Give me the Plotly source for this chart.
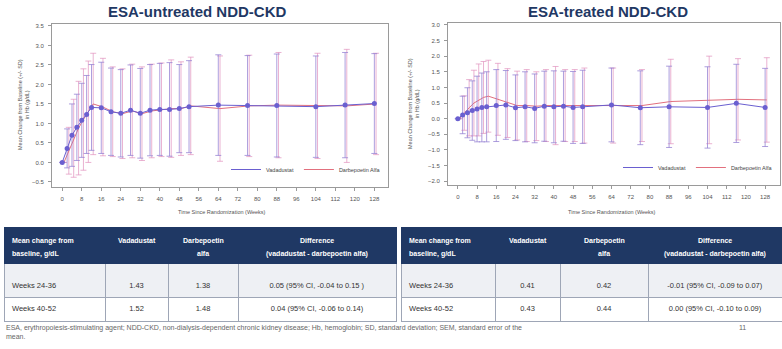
import plotly.graph_objects as go

W, H = 782, 349

# ---------------- data ----------------
weeks = [0, 2, 4, 6, 8, 10, 12, 16, 20, 24, 28, 32, 36, 40, 44, 48, 52, 64, 76, 88, 104, 116, 128]
x_ticks = [0, 8, 16, 24, 32, 40, 48, 56, 64, 72, 80, 88, 96, 104, 112, 120, 128]

untreated_vada_mean = [0, 0.36, 0.70, 0.90, 1.08, 1.23, 1.41, 1.40, 1.30, 1.26, 1.34, 1.26, 1.34, 1.36, 1.36, 1.38, 1.43, 1.47, 1.46, 1.46, 1.43, 1.47, 1.51]
untreated_vada_sd = [0, 0.5, 0.8, 0.85, 0.95, 1.0, 1.1, 1.17, 1.12, 1.12, 1.16, 1.15, 1.17, 1.18, 1.2, 1.13, 1.18, 1.29, 1.28, 1.32, 1.3, 1.35, 1.28]
untreated_darb_mean = [0, 0.30, 0.62, 0.88, 1.10, 1.30, 1.50, 1.42, 1.30, 1.25, 1.32, 1.25, 1.32, 1.35, 1.38, 1.38, 1.45, 1.38, 1.45, 1.47, 1.45, 1.45, 1.50]
untreated_darb_sd = [0, 0.6, 1.0, 1.2, 1.3, 1.3, 1.3, 1.25, 1.15, 1.15, 1.2, 1.2, 1.2, 1.2, 1.25, 1.2, 1.25, 1.35, 1.3, 1.35, 1.35, 1.45, 1.3]

treated_vada_mean = [0, 0.12, 0.19, 0.26, 0.31, 0.36, 0.38, 0.42, 0.44, 0.35, 0.38, 0.33, 0.40, 0.38, 0.40, 0.36, 0.38, 0.44, 0.35, 0.38, 0.36, 0.49, 0.36]
treated_vada_sd = [0, 0.6, 0.8, 0.95, 1.05, 1.1, 1.12, 1.15, 1.1, 1.05, 1.12, 1.1, 1.12, 1.15, 1.12, 1.15, 1.17, 1.18, 1.18, 1.3, 1.3, 1.25, 1.25]
treated_darb_mean = [0, 0.18, 0.35, 0.50, 0.60, 0.68, 0.72, 0.62, 0.50, 0.42, 0.42, 0.40, 0.42, 0.42, 0.42, 0.42, 0.42, 0.42, 0.42, 0.55, 0.60, 0.62, 0.60]
treated_darb_sd = [0, 0.55, 0.9, 1.05, 1.15, 1.15, 1.15, 1.15, 1.1, 1.1, 1.15, 1.1, 1.15, 1.25, 1.15, 1.15, 1.2, 1.2, 1.15, 1.35, 1.4, 1.3, 1.35]

series_names = ["Vadadustat", "Darbepoetin Alfa"]
titles = ["ESA-untreated NDD-CKD", "ESA-treated NDD-CKD"]

# header: one list per column, one entry per header line
table_header = [["Mean change from", "baseline, g/dL"],
                ["Vadadustat", ""],
                ["Darbepoetin", "alfa"],
                ["Difference", "(vadadustat - darbepoetin alfa)"]]
table_rows = ["Weeks 24-36", "Weeks 40-52"]
untreated_tbl_vada = ["1.43", "1.52"]
untreated_tbl_darb = ["1.38", "1.48"]
untreated_tbl_diff = ["0.05 (95% CI, -0.04 to 0.15 )", "0.04 (95% CI, -0.06 to 0.14)"]
treated_tbl_vada = ["0.41", "0.43"]
treated_tbl_darb = ["0.42", "0.44"]
treated_tbl_diff = ["-0.01 (95% CI, -0.09 to 0.07)", "0.00 (95% CI, -0.10 to 0.09)"]

footnote = ("ESA, erythropoiesis-stimulating agent; NDD-CKD, non-dialysis-dependent chronic kidney disease; "
            "Hb, hemoglobin; SD, standard deviation; SEM, standard error of the<br>mean.")
page_no = "11"

# ---------------- styling ----------------
FONT = "Liberation Sans, Arial, sans-serif"
VADA = "#6a5fd0"
VADA_ERR = "rgba(145,125,210,0.75)"
DARB = "#e2707e"
DARB_ERR = "rgba(225,145,190,0.7)"
NAVY = "#1f3864"
DARB_DODGE = 0.7


def px(x):
    return x / W


def py(y):
    return 1 - y / H


fig = go.Figure()

panels = [
    dict(xa="x", ya="y", legend="legend",
         vm=untreated_vada_mean, vs=untreated_vada_sd, dm=untreated_darb_mean, ds=untreated_darb_sd),
    dict(xa="x2", ya="y2", legend="legend2",
         vm=treated_vada_mean, vs=treated_vada_sd, dm=treated_darb_mean, ds=treated_darb_sd),
]

for p in panels:
    fig.add_trace(go.Scatter(
        x=[w + DARB_DODGE for w in weeks], y=p["dm"], mode="lines",
        line=dict(color=DARB, width=1),
        error_y=dict(type="data", array=p["ds"], visible=True, color=DARB_ERR, thickness=1, width=3),
        xaxis=p["xa"], yaxis=p["ya"], showlegend=False, name=series_names[1]))
    fig.add_trace(go.Scatter(
        x=weeks, y=p["vm"], mode="lines+markers",
        line=dict(color=VADA, width=1),
        marker=dict(color=VADA, size=5),
        error_y=dict(type="data", array=p["vs"], visible=True, color=VADA_ERR, thickness=1, width=3),
        xaxis=p["xa"], yaxis=p["ya"], showlegend=False, name=series_names[0]))
    # legend-only entries (lines only, as in the original)
    fig.add_trace(go.Scatter(x=[None], y=[None], mode="lines", line=dict(color=VADA, width=1),
                             name=series_names[0], xaxis=p["xa"], yaxis=p["ya"], legend=p["legend"]))
    fig.add_trace(go.Scatter(x=[None], y=[None], mode="lines", line=dict(color=DARB, width=1),
                             name=series_names[1], xaxis=p["xa"], yaxis=p["ya"], legend=p["legend"]))

axis_common = dict(showline=True, mirror=True, linecolor="#9a9a9a", linewidth=1,
                   showgrid=False, zeroline=False, ticks="outside", ticklen=3,
                   tickcolor="#9a9a9a", tickfont=dict(size=6, color="#555", family=FONT))

fig.update_layout(
    width=W, height=H, margin=dict(l=0, r=0, t=0, b=0),
    paper_bgcolor="white", plot_bgcolor="white",
    font=dict(family=FONT),
    xaxis=dict(domain=[px(52), px(388)], range=[-4.2, 133.6], tickvals=x_ticks, anchor="y",
               ticklabelstandoff=3, **axis_common),
    yaxis=dict(domain=[py(187), py(24)], range=[-0.63, 3.55], dtick=0.5, tick0=0,
               tickformat=".1f", anchor="x", ticklabelstandoff=3, **axis_common),
    xaxis2=dict(domain=[px(448), px(780)], range=[-4.1, 134.2], tickvals=x_ticks, anchor="y2",
                ticklabelstandoff=3, **axis_common),
    yaxis2=dict(domain=[py(185), py(23)], range=[-2.12, 3.06], dtick=0.5, tick0=0,
                tickformat=".1f", anchor="x2", ticklabelstandoff=3, **axis_common),
    legend=dict(orientation="h", x=px(386), xanchor="right", y=py(184), yanchor="bottom",
                font=dict(size=5.5, color="#444", family=FONT), bgcolor="rgba(0,0,0,0)",
                itemwidth=30, tracegroupgap=0),
    legend2=dict(orientation="h", x=px(778), xanchor="right", y=py(182), yanchor="bottom",
                 font=dict(size=5.5, color="#444", family=FONT), bgcolor="rgba(0,0,0,0)",
                 itemwidth=30, tracegroupgap=0),
)

# ---------------- tables ----------------
TABLE_TOP, HEADER_H, ROW_H = 227, 36, 24
tables = [
    dict(left=4, widths=[101, 63, 70, 158],
         cols=[table_rows, untreated_tbl_vada, untreated_tbl_darb, untreated_tbl_diff]),
    dict(left=401, widths=[94, 65, 88, 134],
         cols=[table_rows, treated_tbl_vada, treated_tbl_darb, treated_tbl_diff]),
]
ann = []
for t in tables:
    right = t["left"] + sum(t["widths"])
    # first data row is taller in the original: an invisible spacer line lowers its text
    cell_text = [["\u00a0<br>" + col[0]] + list(col[1:]) for col in t["cols"]]
    fig.add_trace(go.Table(
        domain=dict(x=[px(t["left"]), min(1.0, px(right))],
                    y=[py(325), py(TABLE_TOP)]),
        columnwidth=t["widths"],
        header=dict(values=["", "", "", ""],
                    fill_color=NAVY, line_color=NAVY, line_width=1, height=HEADER_H),
        cells=dict(values=cell_text,
                   fill_color=[["#eef0f4", "white"]] * 4, line_color="#9ea6b6", line_width=1,
                   align=["left", "center", "center", "center"],
                   font=dict(color="#333", size=7.5, family=FONT), height=ROW_H),
    ))
    # header text (line by line so every line is centred like the original)
    edge = t["left"]
    for ci, (w, col) in enumerate(zip(t["widths"], table_header)):
        for li, s in enumerate(col):
            if not s:
                continue
            if ci == 0:
                x, xa = edge + 6, "left"
            else:
                x, xa = edge + w / 2, "center"
            ann.append(dict(text="<b>%s</b>" % s, x=px(x), y=py(241 + 12.5 * li),
                            xref="paper", yref="paper", xanchor=xa, yanchor="middle",
                            showarrow=False, font=dict(size=7, color="white", family=FONT)))
        edge += w

# ---------------- text ----------------
for title, cx in zip(titles, [197, 608]):
    ann.append(dict(text="<b>%s</b>" % title, x=px(cx), y=py(11), xref="paper", yref="paper",
                    xanchor="center", yanchor="middle",
                    showarrow=False, font=dict(size=15, color=NAVY, family=FONT)))
for cx in [222, 612]:
    ann.append(dict(text="Time Since Randomization (Weeks)", x=px(cx), y=py(212), xref="paper",
                    yref="paper", xanchor="center", yanchor="middle", showarrow=False,
                    font=dict(size=5.5, color="#555", family=FONT)))
for cx, cy in [(23, 105), (413, 104)]:
    ann.append(dict(text="Mean Change from Baseline (+/- SD)<br>in Hb (g/dL)", x=px(cx), y=py(cy),
                    xref="paper", yref="paper", xanchor="center", yanchor="middle",
                    showarrow=False, textangle=-90,
                    font=dict(size=5.5, color="#555", family=FONT)))
ann.append(dict(text=footnote, x=px(4), y=py(322), xref="paper", yref="paper", xanchor="left",
                yanchor="top", align="left", showarrow=False,
                font=dict(size=7, color="#666", family=FONT)))
ann.append(dict(text=page_no, x=px(742), y=py(327), xref="paper", yref="paper", showarrow=False,
                xanchor="center", yanchor="middle",
                font=dict(size=7, color="#666", family=FONT)))
fig.update_layout(annotations=ann)

fig.write_html("out.html", config={"displayModeBar": False},
               post_script="document.body.style.margin='0px';")
